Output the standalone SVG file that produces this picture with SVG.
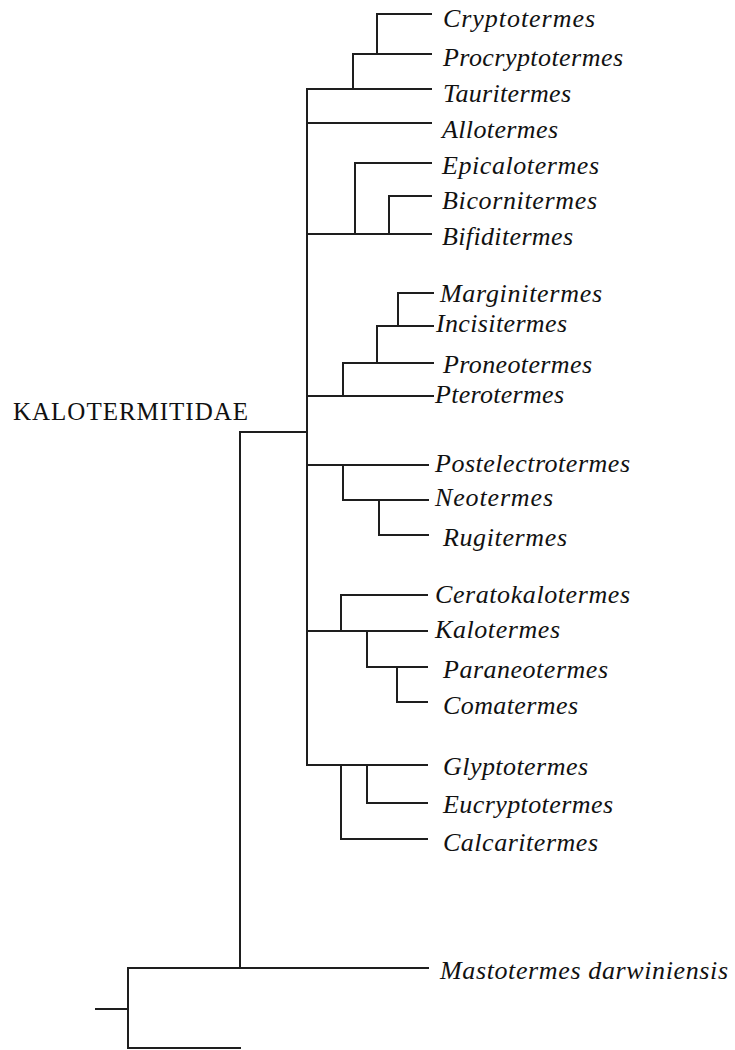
<svg xmlns="http://www.w3.org/2000/svg" width="735" height="1050" viewBox="0 0 735 1050">
  <style>
    .edge { fill: none; stroke: #1e1e1e; stroke-width: 2; stroke-linecap: square; }
    .taxon { font-family: "Liberation Serif", "Times New Roman", serif; font-style: italic; font-size: 26px; fill: #111; }
    .family { font-family: "Liberation Serif", "Times New Roman", serif; font-size: 25px; fill: #111; }
  </style>
  <rect width="735" height="1050" fill="#ffffff"/>

  <!-- branches of the tree -->
  <g id="connectors" class="edge">
    <!-- root and outgroup -->
    <path d="M96,1009 H128 M128,968 V1048 M128,968 H428 M128,1048 H240"/>
    <!-- Kalotermitidae stem -->
    <path d="M240,432 V968 M240,432 H307 M307,89 V765"/>
    <!-- Cryptotermes clade -->
    <path d="M307,89 H431 M353,54 V89 M353,54 H431 M377,14 V54 M377,14 H431"/>
    <path d="M307,123 H431"/>
    <!-- Epicalotermes clade -->
    <path d="M307,234 H431 M355,163 V234 M355,163 H431 M389,196 V234 M389,196 H431"/>
    <!-- Pterotermes clade -->
    <path d="M307,396 H433 M343,363 V396 M343,363 H433 M377,326 V363 M377,326 H433 M398,293 V326 M398,293 H433"/>
    <!-- Postelectrotermes clade -->
    <path d="M307,465 H428 M343,465 V500 M343,500 H428 M379,500 V535 M379,535 H428"/>
    <!-- Kalotermes clade -->
    <path d="M307,631 H427 M341,595 V631 M341,595 H427 M367,631 V667 M367,667 H427 M397,667 V702 M397,702 H427"/>
    <!-- Glyptotermes clade -->
    <path d="M307,765 H427 M341,765 V839 M341,839 H427 M367,765 V803 M367,803 H427"/>
  </g>

  <g id="kalotermitidae"><text class="family" x="13" y="420" textLength="235" lengthAdjust="spacing">KALOTERMITIDAE</text></g>
  <g id="cryptotermes"><text class="taxon" x="443" y="27" textLength="152" lengthAdjust="spacing">Cryptotermes</text></g>
  <g id="procryptotermes"><text class="taxon" x="443" y="66" textLength="180" lengthAdjust="spacing">Procryptotermes</text></g>
  <g id="tauritermes"><text class="taxon" x="443" y="102" textLength="128" lengthAdjust="spacing">Tauritermes</text></g>
  <g id="allotermes"><text class="taxon" x="442" y="138" textLength="116" lengthAdjust="spacing">Allotermes</text></g>
  <g id="epicalotermes"><text class="taxon" x="442" y="174" textLength="157" lengthAdjust="spacing">Epicalotermes</text></g>
  <g id="bicornitermes"><text class="taxon" x="442" y="209" textLength="155" lengthAdjust="spacing">Bicornitermes</text></g>
  <g id="bifiditermes"><text class="taxon" x="442" y="245" textLength="131" lengthAdjust="spacing">Bifiditermes</text></g>
  <g id="marginitermes"><text class="taxon" x="440" y="302" textLength="162" lengthAdjust="spacing">Marginitermes</text></g>
  <g id="incisitermes"><text class="taxon" x="436" y="332" textLength="131" lengthAdjust="spacing">Incisitermes</text></g>
  <g id="proneotermes"><text class="taxon" x="443" y="373" textLength="149" lengthAdjust="spacing">Proneotermes</text></g>
  <g id="pterotermes"><text class="taxon" x="435" y="403" textLength="129" lengthAdjust="spacing">Pterotermes</text></g>
  <g id="postelectrotermes"><text class="taxon" x="435" y="472" textLength="195" lengthAdjust="spacing">Postelectrotermes</text></g>
  <g id="neotermes"><text class="taxon" x="435" y="506" textLength="118" lengthAdjust="spacing">Neotermes</text></g>
  <g id="rugitermes"><text class="taxon" x="443" y="546" textLength="124" lengthAdjust="spacing">Rugitermes</text></g>
  <g id="ceratokalotermes"><text class="taxon" x="435" y="603" textLength="195" lengthAdjust="spacing">Ceratokalotermes</text></g>
  <g id="kalotermes"><text class="taxon" x="435" y="638" textLength="125" lengthAdjust="spacing">Kalotermes</text></g>
  <g id="paraneotermes"><text class="taxon" x="443" y="678" textLength="165" lengthAdjust="spacing">Paraneotermes</text></g>
  <g id="comatermes"><text class="taxon" x="443" y="714" textLength="135" lengthAdjust="spacing">Comatermes</text></g>
  <g id="glyptotermes"><text class="taxon" x="443" y="775" textLength="145" lengthAdjust="spacing">Glyptotermes</text></g>
  <g id="eucryptotermes"><text class="taxon" x="443" y="813" textLength="170" lengthAdjust="spacing">Eucryptotermes</text></g>
  <g id="calcaritermes"><text class="taxon" x="443" y="851" textLength="155" lengthAdjust="spacing">Calcaritermes</text></g>
  <g id="mastotermes"><text class="taxon" x="440" y="979" textLength="288" lengthAdjust="spacing">Mastotermes darwiniensis</text></g>
</svg>
